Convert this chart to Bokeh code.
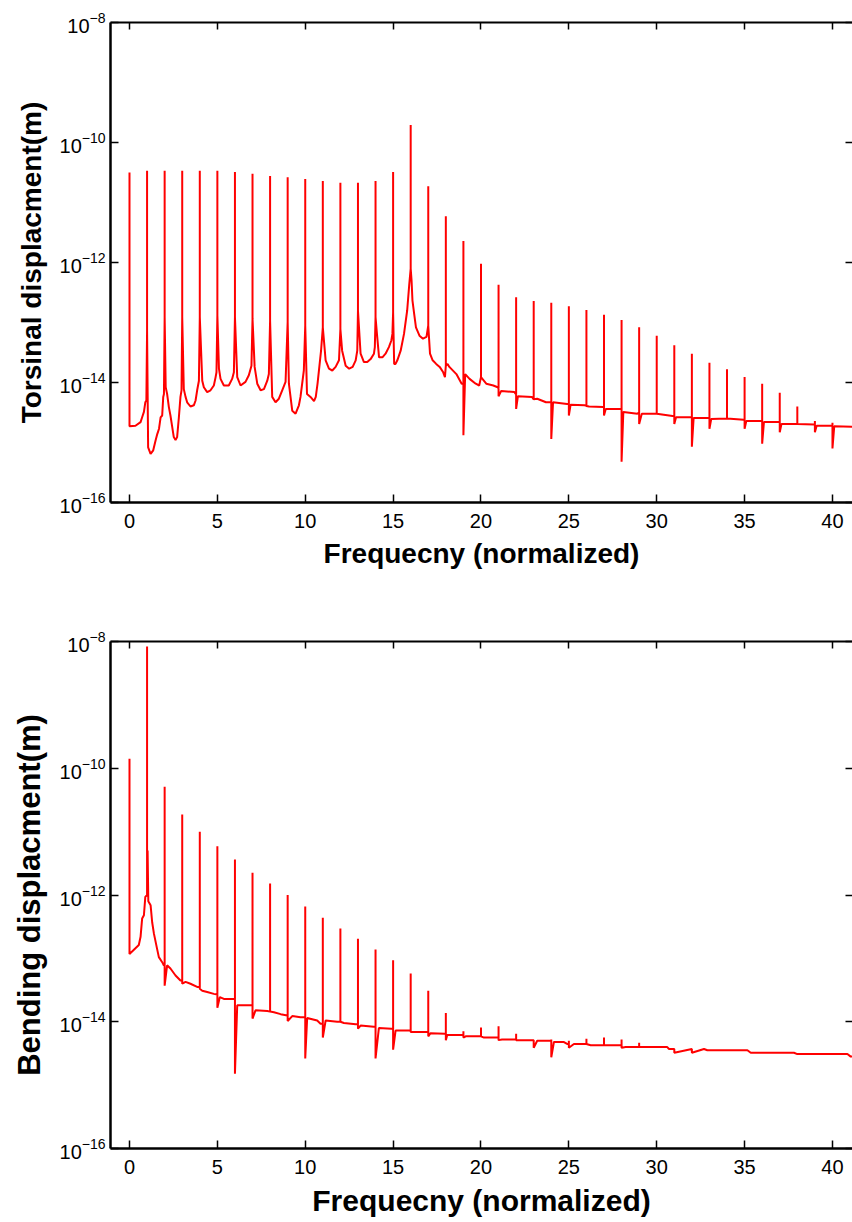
import numpy as np
from bokeh.plotting import figure
from bokeh.layouts import column
from bokeh.models import Range1d, FixedTicker, LinearAxis, LogAxis, CustomJSTickFormatter
from bokeh.embed import file_html
from bokeh.resources import INLINE

# ---------------------------------------------------------------------------
# Spectrum data. Frequencies are normalized to the running speed; amplitudes
# are given as log10 of the displacement in metres.
# ---------------------------------------------------------------------------
harmonics = list(range(41))

# --- torsional response ---
tors_peak = [-10.50, -10.47, -10.47, -10.47, -10.47, -10.47, -10.49, -10.52,
             -10.56, -10.58, -10.61, -10.64, -10.67, -10.67, -10.64, -10.49,
             -9.71, -10.73, -11.23, -11.64, -12.02, -12.37, -12.58, -12.64,
             -12.67, -12.73, -12.79, -12.87, -12.96, -13.08, -13.22, -13.38,
             -13.52, -13.67, -13.78, -13.91, -14.02, -14.17, -14.40, -14.64,
             -14.67]
tors_foot = [-14.73, -13.13, -12.91, -12.91, -12.91, -12.88, -12.91, -12.94,
             -12.97, -12.99, -13.05, -13.08, -13.11, -12.80, -12.91, -12.83,
             -12.10, -13.05, -13.72, -14.02, -13.91, -14.10, -14.20, -14.28,
             -14.33, -14.36, -14.39, -14.41, -14.44, -14.50, -14.52, -14.55,
             -14.58, -14.59, -14.60, -14.62, -14.64, -14.66, -14.69, -14.70,
             -14.72]
tors_dip = [None, None, None, None, None, None, None, None, None, None,
            None, None, None, None, None, None, None, None, None, -14.88,
            None, -14.23, -14.44, None, -14.94, -14.55, None, -14.55, -15.32,
            -14.69, None, -14.69, -15.07, -14.77, None, -14.77, -15.02,
            -14.83, None, -14.83, -15.10]
tors_floor_f = [0.34, 0.63, 0.72, 0.82, 0.90, 0.96,
                1.06, 1.20, 1.35, 1.48, 1.58, 1.68, 1.77, 1.86, 1.92, 1.96,
                2.06, 2.14, 2.24, 2.33, 2.43, 2.52, 2.62, 2.71, 2.81, 2.90, 2.96,
                3.09, 3.19, 3.28, 3.47, 3.66, 3.76, 3.85, 3.95,
                4.14, 4.23, 4.42, 4.61, 4.80, 4.90, 4.95,
                5.09, 5.18, 5.37, 5.65, 5.84, 5.94,
                6.13, 6.32, 6.60, 6.79, 6.94,
                7.12, 7.27, 7.46, 7.65, 7.84, 7.93,
                8.12, 8.31, 8.50, 8.69, 8.88,
                9.07, 9.26, 9.45, 9.64, 9.73, 9.92,
                10.10, 10.30, 10.50, 10.60, 10.70, 10.90,
                11.16, 11.35, 11.54, 11.73, 11.92,
                12.10, 12.30, 12.50, 12.70, 12.87, 12.96,
                13.15, 13.34, 13.53, 13.72, 13.91, 13.96,
                14.08, 14.20, 14.39, 14.57, 14.76, 14.90, 14.96,
                15.06, 15.14, 15.24, 15.43, 15.62, 15.80, 15.92,
                16.05, 16.10, 16.20, 16.30, 16.50, 16.70, 16.90,
                17.10, 17.25, 17.45, 17.65, 17.85, 17.95,
                18.10, 18.20, 18.60, 18.90,
                19.10, 19.35, 19.70, 19.90,
                20.30, 20.70, 20.95,
                21.15, 21.90, 22.10, 22.90,
                23.20, 23.70, 23.95, 24.10, 24.90,
                25.10, 25.90, 26.15, 26.95, 27.10, 27.90, 28.10, 28.90,
                29.15, 30.90, 31.10, 31.90, 32.10, 32.90, 33.10, 34.95,
                35.10, 35.95, 36.10, 36.95, 37.10, 38.95, 39.10, 39.95,
                40.10, 41.30]
tors_floor_e = [-14.72, -14.66, -14.58, -14.49, -14.33, -14.30,
                -15.08, -15.19, -15.13, -14.97, -14.86, -14.77, -14.58, -14.55, -14.24, -14.19,
                -14.08, -14.19, -14.41, -14.55, -14.74, -14.91, -14.96, -14.91, -14.58, -14.24, -14.13,
                -14.11, -14.24, -14.33, -14.40, -14.38, -14.30, -14.13, -13.97,
                -13.97, -14.08, -14.16, -14.13, -14.05, -13.91, -13.83,
                -13.77, -13.94, -14.05, -14.05, -13.94, -13.83,
                -13.91, -14.05, -13.99, -13.88, -13.72,
                -13.74, -14.02, -14.13, -14.11, -13.97, -13.86,
                -14.24, -14.33, -14.27, -14.13, -13.99,
                -14.02, -14.47, -14.52, -14.38, -14.24, -13.80,
                -14.19, -14.24, -14.31, -14.24, -14.02, -13.47,
                -13.63, -13.77, -13.80, -13.74, -13.63,
                -13.47, -13.72, -13.77, -13.74, -13.63, -13.47,
                -13.52, -13.66, -13.66, -13.61, -13.52, -13.41,
                -13.19, -13.58, -13.58, -13.52, -13.41, -13.30, -13.19,
                -13.69, -13.69, -13.63, -13.47, -13.19, -12.80, -12.36,
                -12.30, -12.63, -12.86, -13.08, -13.22, -13.27, -13.24,
                -13.52, -13.63, -13.69, -13.74, -13.83, -13.91,
                -13.69, -13.74, -13.86, -14.02,
                -13.86, -13.94, -14.02, -14.05,
                -14.02, -14.05, -14.08,
                -14.14, -14.16, -14.23, -14.24,
                -14.27, -14.33, -14.33, -14.33, -14.36,
                -14.37, -14.38, -14.40, -14.41, -14.44, -14.44, -14.49, -14.52,
                -14.52, -14.56, -14.58, -14.58, -14.59, -14.59, -14.61, -14.62,
                -14.64, -14.64, -14.66, -14.66, -14.69, -14.70, -14.72, -14.72,
                -14.73, -14.74]

# --- bending response ---
bend_peak = [-9.85, -8.08, -10.29, -10.73, -11.00, -11.23, -11.44, -11.65,
             -11.82, -12.00, -12.18, -12.36, -12.53, -12.69, -12.86, -13.03,
             -13.24, -13.51, -13.86, -14.15, -14.09, -14.07, -14.19, -14.29,
             -14.28, -14.30, -14.27, -14.25, -14.28, -14.33, -14.40, -14.43,
             -14.43, -14.44, -14.45, -14.46, -14.49, -14.49, -14.51, -14.51,
             -14.51]
bend_foot = [-12.93, -12.00, -13.11, -13.35, -13.45, -13.57, -13.64, -13.74,
             -13.84, -13.90, -13.93, -14.03, -14.00, -14.04, -14.08, -14.11,
             -14.14, -14.16, -14.19, -14.21, -14.23, -14.25, -14.28, -14.29,
             -14.30, -14.35, -14.35, -14.37, -14.37, -14.40, -14.40, -14.43,
             -14.43, -14.45, -14.45, -14.45, -14.49, -14.49, -14.51, -14.51,
             -14.51]
bend_dip = [None, None, -13.43, -13.40, -13.48, -13.78, -14.82, -13.95, None,
            -13.99, -14.58, -14.25, None, -14.11, -14.58, -14.44, -14.16,
            -14.23, -14.29, -14.25, None, -14.29, -14.29, -14.41, -14.56,
            -14.41, None, None, -14.41, None, None, -14.49, -14.49, None,
            None, None, None, None, None, None, None]
bend_floor_f = [0.53, 0.63, 0.72, 0.82, 0.90,
                1.03, 1.07, 1.20, 1.29, 1.39, 1.57, 1.67, 1.86, 1.95,
                2.14, 2.33, 2.62, 2.90,
                3.19, 3.47, 3.85,
                4.14, 4.42, 4.80,
                5.14, 5.37, 5.84,
                6.13, 6.89, 7.17, 7.84,
                8.22, 8.60, 8.98, 9.26, 9.73,
                10.11, 10.68, 10.87, 11.16, 11.82,
                12.20, 12.87, 13.15, 13.90, 14.19, 14.90,
                15.14, 15.90, 16.19, 16.90, 17.13, 17.95,
                18.08, 18.94, 19.13, 19.98, 20.17, 20.95,
                21.20, 21.95, 22.16, 22.95, 23.20, 23.95,
                24.15, 24.72, 24.90, 25.29, 25.95, 26.24, 26.95,
                27.19, 27.95, 28.23, 28.95, 29.18, 30.60, 30.70, 32.69,
                32.88, 35.16, 35.35, 37.81, 38.00, 40.85, 41.04, 41.30]
bend_floor_e = [-12.79, -12.66, -12.37, -12.32, -12.03,
                -11.30, -12.10, -12.16, -12.43, -12.61, -12.85, -12.98, -13.06, -13.11,
                -13.11, -13.16, -13.27, -13.35,
                -13.37, -13.40, -13.45,
                -13.51, -13.53, -13.56,
                -13.61, -13.64, -13.64,
                -13.74, -13.74, -13.82, -13.83,
                -13.85, -13.88, -13.90, -13.91, -13.93,
                -13.94, -13.98, -14.03, -13.98, -14.00,
                -14.02, -14.04, -14.06, -14.08, -14.10, -14.11,
                -14.14, -14.14, -14.16, -14.16, -14.18, -14.19,
                -14.21, -14.21, -14.23, -14.23, -14.25, -14.25,
                -14.28, -14.28, -14.29, -14.29, -14.30, -14.30,
                -14.32, -14.32, -14.35, -14.35, -14.35, -14.37, -14.37,
                -14.37, -14.37, -14.40, -14.40, -14.40, -14.40, -14.43, -14.43,
                -14.45, -14.45, -14.49, -14.49, -14.51, -14.51, -14.55, -14.55]

x_ticks = [0, 5, 10, 15, 20, 25, 30, 35, 40]
y_ticks = [1e-16, 1e-14, 1e-12, 1e-10, 1e-8]
x_lo, x_hi = -1.081, 41.14
y_lo, y_hi = 1e-16, 1e-8

FONT = "Liberation Sans"
RED = "#ff0000"


def trace(floor_f, floor_e, peak, foot, dip):
    """Walk along the noise floor and draw each harmonic as a spike
    (foot -> peak -> dip/foot) at its integer frequency."""
    xs, es = [], []
    i = 0
    for k in harmonics:
        while i < len(floor_f) and floor_f[i] < k:
            xs.append(floor_f[i]); es.append(floor_e[i]); i += 1
        xs += [k, k]
        es += [foot[k], peak[k]]
        xs.append(k)
        es.append(dip[k] if dip[k] is not None else foot[k])
    while i < len(floor_f):
        xs.append(floor_f[i]); es.append(floor_e[i]); i += 1
    return xs, [10.0 ** e for e in es]


def tick_only(axis):
    """Mirror axis: inward ticks, no labels."""
    axis.formatter = CustomJSTickFormatter(code="return ''")
    axis.major_label_text_font_size = "6px"
    axis.major_label_standoff = 0
    axis.major_tick_in = 7
    axis.major_tick_out = 0
    axis.major_tick_line_width = 1.5
    axis.minor_tick_in = 0
    axis.minor_tick_out = 0
    return axis


def make_panel(title_y, floor_f, floor_e, peak, foot, dip,
               height, border_top, border_bottom, xlabel_size, ylabel_size):
    p = figure(width=852, height=height, output_backend="svg",
               toolbar_location=None, y_axis_type="log",
               x_range=Range1d(x_lo, x_hi), y_range=Range1d(y_lo, y_hi),
               min_border_left=110, min_border_right=0,
               min_border_top=border_top, min_border_bottom=border_bottom)
    p.outline_line_color = None
    p.grid.visible = False
    p.background_fill_color = "white"

    xs, ys = trace(floor_f, floor_e, peak, foot, dip)
    p.line(xs, ys, line_color=RED, line_width=2)

    xa = p.xaxis[0]
    xa.ticker = FixedTicker(ticks=x_ticks, minor_ticks=[])
    xa.axis_label = "Frequecny (normalized)"
    ya = p.yaxis[0]
    ya.ticker = FixedTicker(ticks=y_ticks, minor_ticks=[])
    ya.axis_label = title_y

    for ax in (xa, ya):
        ax.axis_line_width = 2.5
        ax.axis_line_color = "black"
        ax.major_tick_in = 8
        ax.major_tick_out = 0
        ax.major_tick_line_width = 1.5
        ax.minor_tick_in = 0
        ax.minor_tick_out = 0
        ax.major_label_text_font = FONT
        ax.major_label_text_font_size = "20px"
        ax.major_label_text_color = "black"
        ax.axis_label_text_font = FONT
        ax.axis_label_text_font_style = "bold"
        ax.axis_label_text_color = "black"
    xa.axis_label_text_font_size = xlabel_size
    ya.axis_label_text_font_size = ylabel_size
    xa.major_label_standoff = 11
    xa.axis_label_standoff = 7
    ya.major_label_standoff = 5
    ya.axis_label_standoff = 10

    top = tick_only(LinearAxis(ticker=FixedTicker(ticks=x_ticks, minor_ticks=[]),
                               axis_line_width=2, axis_line_color="black"))
    p.add_layout(top, "above")
    right = tick_only(LogAxis(ticker=FixedTicker(ticks=y_ticks, minor_ticks=[]),
                              axis_line_color=None))
    p.add_layout(right, "right")
    return p


p_top = make_panel("Torsinal displacment(m)", tors_floor_f, tors_floor_e,
                   tors_peak, tors_foot, tors_dip,
                   height=600, border_top=22, border_bottom=98,
                   xlabel_size="28px", ylabel_size="28px")
p_bot = make_panel("Bending displacment(m)", bend_floor_f, bend_floor_e,
                   bend_peak, bend_foot, bend_dip,
                   height=622, border_top=41, border_bottom=74,
                   xlabel_size="30px", ylabel_size="31px")

p = column(p_top, p_bot, spacing=0)
open("out.html", "w").write(file_html(p, INLINE))
